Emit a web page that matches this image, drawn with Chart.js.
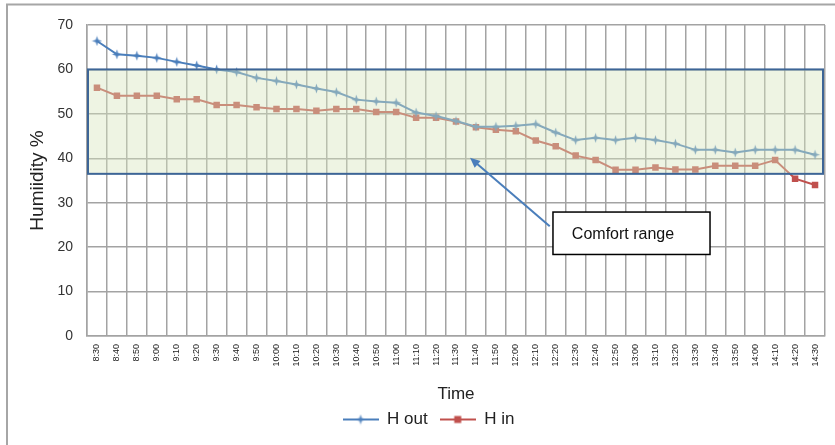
<!DOCTYPE html>
<html><head><meta charset="utf-8">
<script src="https://cdn.jsdelivr.net/npm/chart.js@4/dist/chart.umd.min.js"></script>
<style>html,body{margin:0;padding:0;background:#fff}#wrap{width:835px;height:445px;position:relative}</style>
</head><body><div id="wrap"><canvas id="c"></canvas></div>
<script>
// ---- data ----
const timeLabels = ['8:30','8:40','8:50','9:00','9:10','9:20','9:30','9:40','9:50','10:00','10:10','10:20','10:30','10:40','10:50','11:00','11:10','11:20','11:30','11:40','11:50','12:00','12:10','12:20','12:30','12:40','12:50','13:00','13:10','13:20','13:30','13:40','13:50','14:00','14:10','14:20','14:30'];
const hOut = [66.4,63.4,63.1,62.6,61.7,60.9,60.0,59.4,58.1,57.4,56.6,55.7,54.9,53.2,52.8,52.5,50.3,49.5,48.4,47.1,47.1,47.3,47.7,45.8,44.1,44.6,44.1,44.6,44.1,43.3,41.9,41.9,41.3,41.9,41.9,41.9,40.8];
const hIn = [55.9,54.1,54.1,54.1,53.3,53.3,52.0,52.0,51.5,51.1,51.1,50.7,51.1,51.1,50.4,50.4,49.1,49.1,48.3,47.0,46.4,46.1,44.0,42.7,40.6,39.6,37.4,37.4,37.9,37.5,37.5,38.3,38.3,38.3,39.6,35.4,34.0];
const seriesNames = ['H out','H in'];
const yTickValues = [0,10,20,30,40,50,60,70];
const comfortRange = [36.5, 60];
const comfortLabel = 'Comfort range';

// ---- styles ----
const FONT = "'Liberation Sans', Arial, sans-serif";
const BLUE = '#4a7ebb', RED = '#c0504d', GRID = '#a3a3a3';
Chart.defaults.font.family = FONT;

function starImg(color) {
  const c = document.createElement('canvas'); c.width = 11; c.height = 11;
  const g = c.getContext('2d'); g.fillStyle = color; g.beginPath();
  for (let k = 0; k < 8; k++) {
    const a = -Math.PI / 2 + k * Math.PI / 4, r = k % 2 === 0 ? 5 : 1.7;
    g.lineTo(5.5 + r * Math.cos(a), 5.5 + r * Math.sin(a));
  }
  g.closePath(); g.fill(); return c;
}
function legendImg(color, kind) {
  const c = document.createElement('canvas'); c.width = 36; c.height = 12;
  const g = c.getContext('2d');
  g.strokeStyle = color; g.lineWidth = 2; g.beginPath(); g.moveTo(0, 6); g.lineTo(36, 6); g.stroke();
  g.fillStyle = color;
  if (kind === 'star') g.drawImage(starImg(color), 12.5, 0.5);
  else g.fillRect(14.5, 2.5, 7, 7);
  return c;
}
const starMarker = starImg(BLUE);
const legendImgs = [legendImg(BLUE, 'star'), legendImg(RED, 'rect')];

const framePlugin = {
  id: 'frame',
  beforeDraw(chart) {
    const ctx = chart.ctx; ctx.save();
    ctx.fillStyle = '#fff'; ctx.fillRect(0, 0, chart.width, chart.height);
    ctx.strokeStyle = '#a6a6a6'; ctx.lineWidth = 2;
    ctx.beginPath(); ctx.moveTo(chart.width, 4.5); ctx.lineTo(7, 4.5); ctx.lineTo(7, chart.height); ctx.stroke();
    ctx.restore();
  }
};

const legendShift = {
  id: 'legendShift',
  afterLayout(chart) {
    if (chart.legend) { chart.legend.left += 16; chart.legend.right += 16; }
  }
};

const comfortPlugin = {
  id: 'comfort',
  afterDatasetsDraw(chart) {
    const ctx = chart.ctx, ys = chart.scales.y, ca = chart.chartArea;
    const W = ca.right - ca.left;
    const px = f => ca.left + f * W;
    const yT = ys.getPixelForValue(comfortRange[1]), yB = ys.getPixelForValue(comfortRange[0]);
    ctx.save();
    ctx.fillStyle = 'rgba(215,228,189,0.42)';
    ctx.fillRect(ca.left + 1, yT, W - 3, yB - yT);
    ctx.strokeStyle = '#3d6596'; ctx.lineWidth = 2;
    ctx.strokeRect(ca.left + 1, yT, W - 3, yB - yT);
    // arrow
    const tx = px(0.519), ty = ys.getPixelForValue(40.1);
    const sx = px(0.627), sy = ys.getPixelForValue(24.7);
    const ang = Math.atan2(ty - sy, tx - sx);
    ctx.strokeStyle = BLUE; ctx.fillStyle = BLUE; ctx.lineWidth = 2;
    ctx.beginPath(); ctx.moveTo(sx, sy); ctx.lineTo(tx - 8 * Math.cos(ang), ty - 8 * Math.sin(ang)); ctx.stroke();
    ctx.beginPath();
    ctx.moveTo(tx, ty);
    ctx.lineTo(tx - 10 * Math.cos(ang) + 4.5 * Math.sin(ang), ty - 10 * Math.sin(ang) - 4.5 * Math.cos(ang));
    ctx.lineTo(tx - 10 * Math.cos(ang) - 4.5 * Math.sin(ang), ty - 10 * Math.sin(ang) + 4.5 * Math.cos(ang));
    ctx.closePath(); ctx.fill();
    // callout box
    const bl = px(0.6314), br = px(0.8442), bt = ys.getPixelForValue(27.9), bb = ys.getPixelForValue(18.35);
    ctx.fillStyle = '#fff'; ctx.fillRect(bl, bt, br - bl, bb - bt);
    ctx.strokeStyle = '#000'; ctx.lineWidth = 1.5; ctx.strokeRect(bl, bt, br - bl, bb - bt);
    ctx.fillStyle = '#111'; ctx.font = '16px ' + FONT; ctx.textBaseline = 'middle'; ctx.textAlign = 'left';
    ctx.fillText(comfortLabel, px(0.657), (bt + bb) / 2 + 1);
    ctx.restore();
  }
};

new Chart(document.getElementById('c'), {
  type: 'line',
  data: {
    labels: timeLabels,
    datasets: [
      { label: seriesNames[0], data: hOut, borderColor: BLUE, backgroundColor: BLUE, borderWidth: 2,
        pointStyle: starMarker, pointRadius: 5, pointHoverRadius: 5, tension: 0, fill: false },
      { label: seriesNames[1], data: hIn, borderColor: RED, backgroundColor: RED, borderWidth: 2,
        pointStyle: 'rect', pointRadius: 4.6, pointBorderWidth: 0, pointHoverRadius: 4.6, tension: 0, fill: false }
    ]
  },
  options: {
    responsive: true, maintainAspectRatio: false, animation: false, devicePixelRatio: 1,
    layout: { padding: { left: 0, right: 10, top: 25, bottom: 7 } },
    plugins: {
      tooltip: { enabled: false },
      legend: {
        position: 'bottom',
        labels: {
          usePointStyle: true, pointStyleWidth: 36, color: '#222', padding: 12,
          font: { size: 17, family: FONT },
          generateLabels(chart) {
            return Chart.defaults.plugins.legend.labels.generateLabels(chart).map((it, i) => Object.assign(it, { pointStyle: legendImgs[i] }));
          }
        }
      }
    },
    scales: {
      x: {
        offset: true,
        grid: { offset: true, color: GRID, lineWidth: 1.5, drawTicks: false },
        border: { color: GRID, width: 1.5 },
        ticks: { autoSkip: false, minRotation: 90, maxRotation: 90, font: { size: 9 }, color: '#222', padding: 8 },
        title: { display: true, text: 'Time', color: '#222', font: { size: 17, lineHeight: 0.6 }, padding: { top: 0, bottom: 0 } },
        afterFit(s) { s.height = 63; }
      },
      y: {
        min: 0, max: 70,
        afterBuildTicks(s) { s.ticks = yTickValues.map(v => ({ value: v })); },
        grid: { color: GRID, lineWidth: 1.5, drawTicks: false },
        border: { color: GRID, width: 1.5 },
        ticks: { font: { size: 14 }, color: '#333', padding: 14 },
        title: { display: true, text: 'Humiidity %', color: '#222', font: { size: 19, lineHeight: 1 }, padding: { top: 28, bottom: 0 } },
        afterFit(s) { s.width = 87; }
      }
    }
  },
  plugins: [framePlugin, legendShift, comfortPlugin]
});
</script>
</body></html>
